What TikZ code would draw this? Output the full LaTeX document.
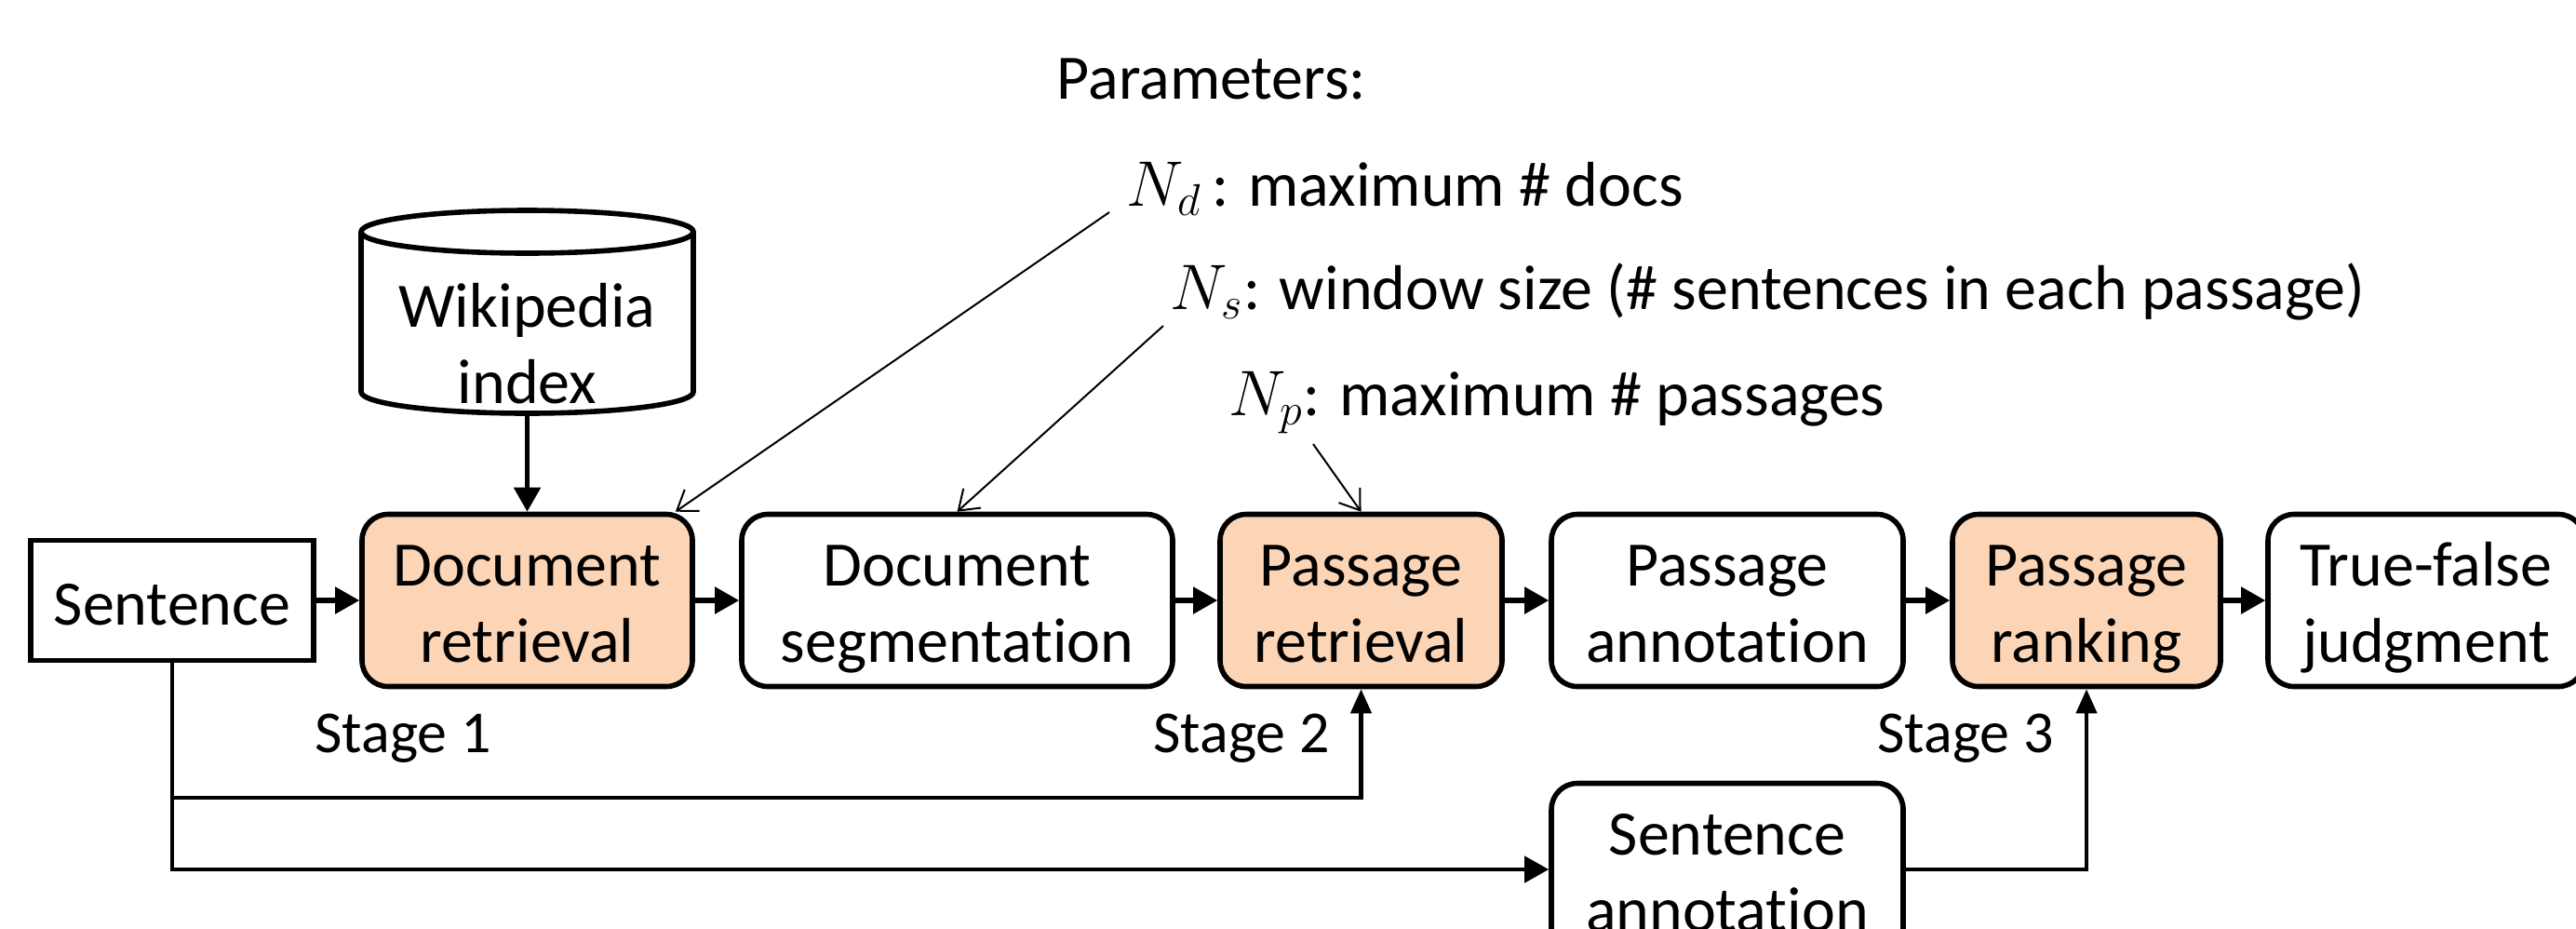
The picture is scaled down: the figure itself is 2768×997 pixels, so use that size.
\documentclass[tikz,border=0pt]{standalone}
\usepackage[no-math]{fontspec}
\setmainfont[Ligatures={NoCommon,NoRequired,NoContextual}]{Carlito}
\usetikzlibrary{arrows.meta,calc}
\definecolor{peach}{HTML}{FBD5B5}
\newcommand\figfs{\fontsize{17}{20.5}\selectfont}
\newcommand\stagefs{\fontsize{16}{19}\selectfont}
\newcommand\twolines[2]{\rule{0pt}{18.85pt}#1\\\rule[-6.15pt]{0pt}{6.15pt}#2}
\begin{document}
\begin{tikzpicture}[x=0.25pt,y=0.25pt,
  box/.style={draw, line width=1.4pt, rounded corners=7pt, minimum height=46.25pt, inner sep=0pt, align=center, font=\figfs},
  hl/.style={box, fill=peach},
  lbl/.style={inner sep=0pt, font=\figfs},
  conn/.style={line width=1.1pt},
  arr/.style={line width=1.3pt, -{Triangle[length=6.5pt,width=7pt]}},
  varr/.style={conn, -{Triangle[length=6.5pt,width=5.5pt]}},
  thinarr/.style={line width=0.5pt, -{Straight Barb[length=5pt,width=7pt]}}]
\useasboundingbox (0,0) rectangle (2768,-997);
\clip (0,0) rectangle (2768,-997);

% parameters
\node[lbl, anchor=base west] (params) at (1135,-106) {Parameters:};
\node[lbl, anchor=base west] (nd) at (1210,-221) {$N_d$\,: maximum \# docs};
\node[lbl, anchor=base west] (ns) at (1257,-332) {$N_s$: window size (\# sentences in each passage)};
\node[lbl, anchor=base west] (np) at (1320,-446) {$N_p$: maximum \# passages};

% cylinder
\draw[line width=1.4pt, fill=white] (388,-249) -- (388,-421) arc[start angle=180,end angle=360,x radius=44.625pt,y radius=5.75pt] -- (745,-249);
\draw[line width=1.4pt, fill=white] (566.5,-249) ellipse[x radius=44.625pt, y radius=5.75pt];
\node[lbl, align=center] (wiki) at (566.5,-367) {\twolines{Wikipedia}{index}};
\coordinate (wikibot) at (566.5,-444);

% main row
\node[draw, line width=1.3pt, minimum width=76pt, minimum height=32.25pt, inner sep=0pt, font=\figfs] (sent) at (185,-645) {\rule[-6.15pt]{0pt}{25.6pt}Sentence};
\node[hl, minimum width=88.75pt] (docret) at (566.5,-645) {\twolines{Document}{retrieval}};
\node[box, minimum width=115.75pt] (docseg) at (1028.5,-645) {\twolines{Document}{segmentation}};
\node[hl, minimum width=75.75pt] (passret) at (1462.5,-645) {\twolines{Passage}{retrieval}};
\node[box, minimum width=94.5pt] (passann) at (1856,-645) {\twolines{Passage}{annotation}};
\node[hl, minimum width=72pt] (passrank) at (2242,-645) {\twolines{Passage}{ranking}};
\node[box, minimum width=85pt] (tf) at (2607,-645) {\twolines{True-false}{judgment}};
\node[box, minimum width=94.5pt] (sentann) at (1856,-934) {\twolines{Sentence}{annotation}};

% stage labels
\node[lbl, font=\stagefs] (st1) at (433,-793) {Stage 1};
\node[lbl, font=\stagefs] (st2) at (1334,-793) {Stage 2};
\node[lbl, font=\stagefs] (st3) at (2112,-793) {Stage 3};

% connectors
\draw[arr] (wikibot) -- (docret.north);
\draw[arr] (sent.east) -- (docret.west);
\draw[arr] (docret.east) -- (docseg.west);
\draw[arr] (docseg.east) -- (passret.west);
\draw[arr] (passret.east) -- (passann.west);
\draw[arr] (passann.east) -- (passrank.west);
\draw[arr] (passrank.east) -- (tf.west);

\coordinate (split) at (185,-857);
\draw[conn, -{Triangle[length=6.5pt,width=7pt]}] (sent.south) |- (sentann.west);
\draw[varr] (split) -| (passret.south);
\draw[varr] (sentann.east) -| (passrank.south);

% parameter arrows
\coordinate (ndfoot) at (1192,-228);
\coordinate (nsfoot) at (1250,-350);
\coordinate (npfoot) at (1411,-477);
\draw[thinarr] (ndfoot) -- ($(docret.north east)+(-21,0)$);
\draw[thinarr] (nsfoot) -- (docseg.north);
\draw[thinarr] (npfoot) -- (passret.north);
\end{tikzpicture}
\end{document}
